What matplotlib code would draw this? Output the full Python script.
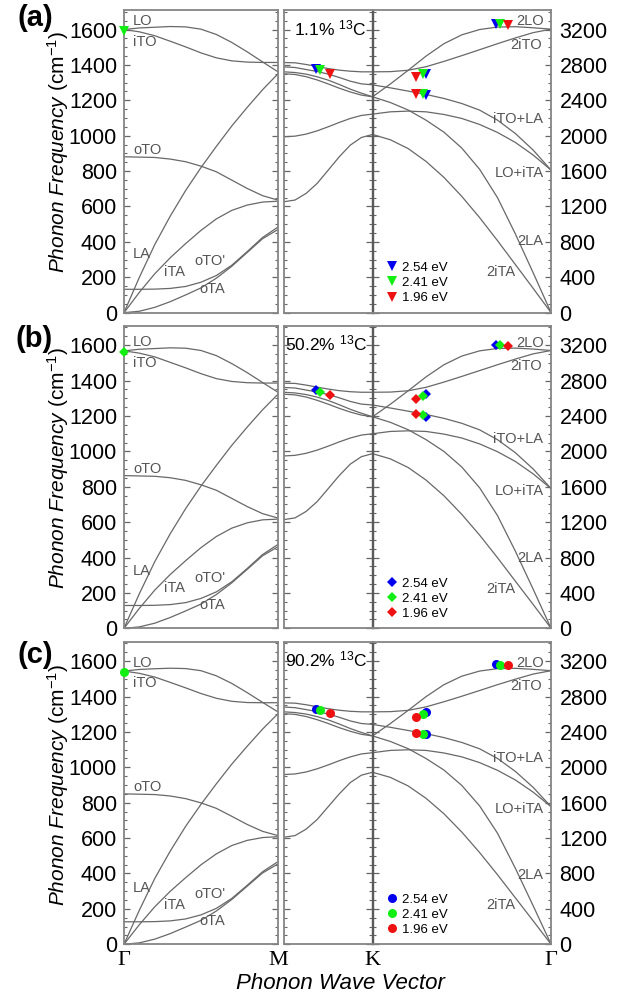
import matplotlib.pyplot as plt
from matplotlib.lines import Line2D
from matplotlib.ticker import MultipleLocator

plt.rcParams['font.family'] = ['Liberation Sans', 'DejaVu Sans']
plt.rcParams['mathtext.fontset'] = 'custom'
plt.rcParams['mathtext.rm'] = 'Liberation Sans'
plt.rcParams['mathtext.it'] = 'Liberation Sans:italic'

# fractional position along each segment of the path
f_gm = [0.0, 0.1, 0.2, 0.3, 0.4, 0.5, 0.6, 0.7, 0.8, 0.9, 1.0]        # Gamma -> M
g_mk = [0.0, 0.125, 0.25, 0.375, 0.5, 0.625, 0.75, 0.875, 1.0]       # M -> K
h_kg = [0.0, 0.1, 0.2, 0.3, 0.4, 0.5, 0.6, 0.7, 0.8, 0.9, 1.0]        # K -> Gamma

# one-phonon branches (cm-1), Gamma -> M
gm_names = ['LO', 'iTO', 'oTO', 'LA', 'iTA', "oTO'", 'oTA']
gm_a = [[1600, 1609, 1613, 1617, 1615, 1602, 1572, 1527, 1474, 1417, 1361],
        [1600, 1587, 1565, 1534, 1502, 1468, 1440, 1423, 1416, 1414, 1414],
        [881, 879, 877, 868, 853, 828, 796, 749, 702, 661, 636],
        [0, 200, 385, 545, 690, 820, 940, 1055, 1160, 1260, 1350],
        [0, 115, 220, 310, 390, 465, 530, 578, 608, 625, 630],
        [132, 132, 133, 137, 148, 172, 210, 268, 345, 425, 484],
        [0, 8, 30, 62, 100, 140, 195, 262, 340, 418, 470]]
gm_b = [[1568, 1577, 1581, 1585, 1583, 1570, 1541, 1496, 1445, 1389, 1334],
        [1568, 1555, 1534, 1503, 1472, 1439, 1411, 1395, 1388, 1386, 1386],
        [863, 861, 859, 851, 836, 811, 780, 734, 688, 648, 623],
        [0, 196, 377, 534, 676, 804, 921, 1034, 1137, 1235, 1323],
        [0, 113, 216, 304, 382, 456, 519, 566, 596, 613, 617],
        [129, 129, 130, 134, 145, 169, 206, 263, 338, 417, 474],
        [0, 8, 29, 61, 98, 137, 191, 257, 333, 410, 461]]
gm_c = [[1544, 1553, 1557, 1560, 1558, 1546, 1517, 1474, 1422, 1367, 1313],
        [1544, 1531, 1510, 1480, 1449, 1417, 1390, 1373, 1366, 1365, 1365],
        [850, 848, 846, 838, 823, 799, 768, 723, 677, 638, 614],
        [0, 193, 372, 526, 666, 791, 907, 1018, 1119, 1216, 1303],
        [0, 111, 212, 299, 376, 449, 511, 558, 587, 603, 608],
        [127, 127, 128, 132, 143, 166, 203, 259, 333, 410, 467],
        [0, 8, 29, 60, 97, 135, 188, 253, 328, 403, 454]]

# two-phonon branches (cm-1, right axis), M -> K
two_names = ['2iTO', 'iTO+LA', '2LO', '2LA', 'LO+iTA', '2iTA']
mk_a = [[2827, 2824, 2805, 2782, 2759, 2741, 2729, 2722, 2722],
        [2778, 2771, 2748, 2726, 2696, 2658, 2616, 2586, 2575],
        [2722, 2714, 2696, 2666, 2628, 2579, 2526, 2481, 2440],
        [2700, 2692, 2667, 2630, 2585, 2537, 2494, 2459, 2440],
        [1988, 1995, 2018, 2055, 2101, 2150, 2195, 2229, 2244],
        [1254, 1273, 1348, 1461, 1611, 1762, 1894, 1980, 2014]]
mk_b = [[2770, 2768, 2749, 2726, 2704, 2686, 2674, 2668, 2668],
        [2722, 2716, 2693, 2671, 2642, 2605, 2564, 2534, 2524],
        [2668, 2660, 2642, 2613, 2575, 2527, 2475, 2431, 2391],
        [2646, 2638, 2614, 2577, 2533, 2486, 2444, 2410, 2391],
        [1948, 1955, 1978, 2014, 2059, 2107, 2151, 2184, 2199],
        [1229, 1248, 1321, 1432, 1579, 1727, 1856, 1940, 1974]]
mk_c = [[2728, 2725, 2707, 2685, 2662, 2645, 2633, 2627, 2627],
        [2681, 2674, 2652, 2631, 2602, 2565, 2524, 2495, 2485],
        [2627, 2619, 2602, 2573, 2536, 2489, 2438, 2394, 2355],
        [2606, 2598, 2574, 2538, 2495, 2448, 2407, 2373, 2355],
        [1918, 1925, 1947, 1983, 2027, 2075, 2118, 2151, 2165],
        [1210, 1228, 1301, 1410, 1555, 1700, 1828, 1911, 1944]]

# two-phonon branches (cm-1, right axis), K -> Gamma
kg_a = [[2722, 2724, 2740, 2780, 2840, 2905, 2972, 3040, 3105, 3165, 3204],
        [2575, 2541, 2504, 2466, 2421, 2364, 2289, 2176, 2025, 1837, 1611],
        [2440, 2585, 2740, 2900, 3040, 3140, 3200, 3228, 3232, 3220, 3204],
        [2440, 2375, 2290, 2175, 2040, 1860, 1620, 1300, 890, 450, 0],
        [2244, 2270, 2278, 2270, 2240, 2195, 2127, 2037, 1924, 1781, 1611],
        [2014, 1954, 1854, 1709, 1529, 1314, 1074, 814, 544, 274, 0]]
kg_b = [[2668, 2670, 2685, 2724, 2783, 2847, 2913, 2979, 3043, 3102, 3140],
        [2524, 2490, 2454, 2417, 2373, 2317, 2243, 2132, 1985, 1800, 1579],
        [2391, 2533, 2685, 2842, 2979, 3077, 3136, 3163, 3167, 3156, 3140],
        [2391, 2328, 2244, 2132, 1999, 1823, 1588, 1274, 872, 441, 0],
        [2199, 2225, 2232, 2225, 2195, 2151, 2084, 1996, 1886, 1745, 1579],
        [1974, 1915, 1817, 1675, 1498, 1288, 1053, 798, 533, 269, 0]]
kg_c = [[2627, 2629, 2644, 2683, 2741, 2803, 2868, 2934, 2996, 3054, 3092],
        [2485, 2452, 2416, 2380, 2336, 2281, 2209, 2100, 1954, 1773, 1555],
        [2355, 2495, 2644, 2799, 2934, 3030, 3088, 3115, 3119, 3107, 3092],
        [2355, 2292, 2210, 2099, 1969, 1795, 1563, 1255, 859, 434, 0],
        [2165, 2191, 2198, 2191, 2162, 2118, 2053, 1966, 1857, 1719, 1555],
        [1944, 1886, 1789, 1649, 1475, 1268, 1036, 786, 525, 264, 0]]

# Raman peaks for the three laser energies (blue, green, red)
exc_labels = ['2.54 eV', '2.41 eV', '1.96 eV']
gamma_pt = [1590, 1562, 1539]                 # G peak (2.41 eV) at Gamma
mk_pt_x = [0.365, 0.403, 0.516]
mk_pt_a = [2752, 2740, 2703]
mk_pt_b = [2690, 2674, 2637]
mk_pt_c = [2663, 2651, 2614]
kg_pt_x = [[0.298, 0.298, 0.694], [0.283, 0.283, 0.713], [0.245, 0.245, 0.759]]
kg_pt_a = [[2703, 2458, 3260], [2699, 2466, 3260], [2658, 2473, 3249]]
kg_pt_b = [[2645, 2393, 3200], [2626, 2409, 3200], [2589, 2420, 3189]]
kg_pt_c = [[2625, 2371, 3162], [2606, 2378, 3154], [2568, 2390, 3154]]

panel_tags = ['(a)', '(b)', '(c)']
c13_conc = ['1.1%', '50.2%', '90.2%']

# styling
exc_colors = ['#0000ee', '#11ee11', '#ee1111']
panel_markers = ['v', 'D', 'o']
marker_sizes = [6.5, 5.5, 6.5]
line_col = '#686868'
frame_col = '#858585'
lab_col = '#555555'
shift = [1.0, 0.98, 0.965]   # label heights follow the isotope shift

gm_label_pos = [(0.058, 1650), (0.058, 1528), (0.058, 921), (0.058, 331),
                (0.26, 230), (0.46, 292), (0.49, 134)]
kg_label_pos = [(0.951, 3023), (0.957, 2187), (0.957, 3296), (0.957, 812),
                (0.957, 1583), (0.798, 454)]

all_gm = [gm_a, gm_b, gm_c]
all_mk = [mk_a, mk_b, mk_c]
all_kg = [kg_a, kg_b, kg_c]
all_mk_pt = [mk_pt_a, mk_pt_b, mk_pt_c]
all_kg_pt = [kg_pt_a, kg_pt_b, kg_pt_c]

fig = plt.figure(figsize=(6.24, 9.97), dpi=100)

row_bottom = [0.6864, 0.3698, 0.0529]
row_h = 0.3035
ylab_y = [0.8475, 0.5306, 0.2131]
tag_y = [1 - 4 / 997, 1 - 325 / 997, 1 - 641 / 997]


def style_axis(ax, major, minor):
    for s in ax.spines.values():
        s.set_color(frame_col)
        s.set_linewidth(1.3)
    ax.yaxis.set_major_locator(MultipleLocator(major))
    ax.yaxis.set_minor_locator(MultipleLocator(minor))
    ax.yaxis.set_ticks_position('both')
    ax.tick_params(axis='y', which='both', direction='in', color='#666666',
                   labelsize=15.5, pad=5)
    ax.tick_params(axis='y', which='major', length=4, width=0.9)
    ax.tick_params(axis='y', which='minor', length=2.2, width=0.8)
    ax.tick_params(axis='x', which='both', length=0, labelbottom=False)
    ax.set_xlim(0, 1)


for i in range(3):
    b = row_bottom[i]
    ax1 = fig.add_axes([0.1987, b, 0.2468, row_h])
    ax2 = fig.add_axes([0.4551, b, 0.1418, row_h])
    ax3 = fig.add_axes([0.5970, b, 0.2861, row_h])

    style_axis(ax1, 200, 50)
    style_axis(ax2, 400, 100)
    style_axis(ax3, 400, 100)
    ax1.set_ylim(0, 1710)
    ax2.set_ylim(0, 3420)
    ax3.set_ylim(0, 3420)
    ax2.tick_params(axis='y', labelleft=False)
    ax3.tick_params(axis='y', labelleft=False, labelright=True, pad=6)
    ax2.spines['right'].set_color('#5a5a5a')
    ax3.spines['left'].set_color('#5a5a5a')
    ax2.spines['right'].set_linewidth(1.0)
    ax3.spines['left'].set_linewidth(1.0)

    for br in all_gm[i]:
        ax1.plot(f_gm, br, color=line_col, lw=0.9)
    for br in all_mk[i]:
        ax2.plot(g_mk, br, color=line_col, lw=0.9)
    for br in all_kg[i]:
        ax3.plot(h_kg, br, color=line_col, lw=0.9)

    s = shift[i]
    for name, (x, y) in zip(gm_names, gm_label_pos):
        ax1.text(x, y * s, name, color=lab_col, fontsize=10.5, ha='left', va='center')
    for name, (x, y) in zip(two_names, kg_label_pos):
        ax3.text(x, y * s, name, color=lab_col, fontsize=10.5, ha='right', va='center')

    mkr = panel_markers[i]
    ms = marker_sizes[i]
    handles = []
    for k in range(3):
        ax2.plot(mk_pt_x[k], all_mk_pt[i][k], mkr, color=exc_colors[k], ms=ms,
                 mew=0, zorder=5)
        ax3.plot(kg_pt_x[k], all_kg_pt[i][k], mkr, color=exc_colors[k], ms=ms,
                 mew=0, zorder=5, linestyle='none')
        handles.append(Line2D([], [], marker=mkr, color=exc_colors[k], ms=ms,
                              mew=0, linestyle='none', label=exc_labels[k]))
    ax1.plot(0, gamma_pt[i], mkr, color=exc_colors[1], ms=ms, mew=0,
             clip_on=False, zorder=6)

    ax3.legend(handles=handles, loc='lower left', bbox_to_anchor=(0.075, 0.028),
               frameon=False, fontsize=9.5, handlelength=0.9, handletextpad=0.35,
               labelspacing=0.22, borderpad=0, borderaxespad=0)

    ax2.text(0.934, 0.94, c13_conc[i] + ' $^{13}$C', transform=ax2.transAxes,
             fontsize=12.5, ha='right', va='center')

    fig.text(0.085, tag_y[i], panel_tags[i], fontsize=21, fontweight='bold',
             ha='right', va='top')
    fig.text(0.093, ylab_y[i], r'$\mathit{Phonon\ Frequency}$ (cm$^{-1}$)',
             rotation=90, fontsize=15, ha='center', va='center')

    if i == 2:
        for ax, labs in ((ax1, ['\u0393', 'M']), (ax3, ['K', '\u0393'])):
            ax.set_xticks([0, 1])
            ax.set_xticklabels(labs, family='Liberation Serif', fontsize=16)
            ax.tick_params(axis='x', labelbottom=True, pad=5)

fig.text(0.545, 0.014, 'Phonon Wave Vector', style='italic', fontsize=16,
         ha='center', va='center')

fig.savefig('out.png', dpi=100)
